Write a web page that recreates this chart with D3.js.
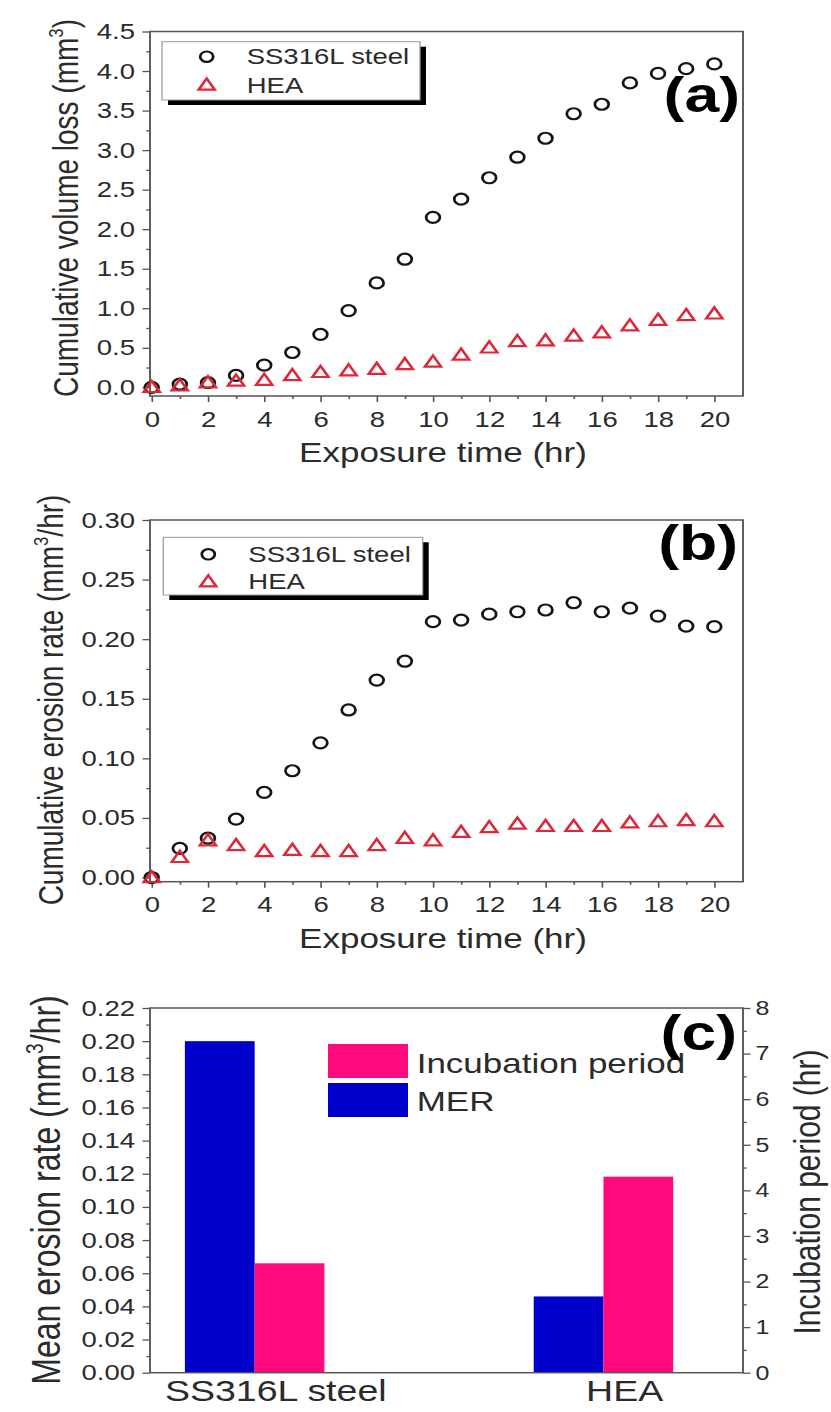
<!DOCTYPE html>
<html><head><meta charset="utf-8">
<script src="https://cdn.jsdelivr.net/npm/d3@7"></script>
<style>html,body{margin:0;padding:0;background:#fff}</style>
</head><body>
<script>
// ---------------- data ----------------
const hours = [0,1,2,3,4,5,6,7,8,9,10,11,12,13,14,15,16,17,18,19,20];
const seriesNames = ["SS316L steel", "HEA"];
const volumeLossSS  = [0.00,0.04,0.06,0.15,0.28,0.44,0.67,0.97,1.32,1.62,2.15,2.38,2.65,2.91,3.15,3.46,3.58,3.85,3.97,4.03,4.09];
const volumeLossHEA = [0.00,0.02,0.06,0.08,0.09,0.15,0.19,0.21,0.23,0.29,0.32,0.41,0.50,0.58,0.59,0.65,0.69,0.78,0.85,0.91,0.93];
const erosionRateSS  = [0.000,0.0245,0.033,0.049,0.0715,0.0896,0.113,0.1406,0.1657,0.1815,0.2147,0.216,0.221,0.223,0.2245,0.2306,0.223,0.226,0.2194,0.211,0.2105];
const erosionRateHEA = [0.000,0.017,0.031,0.027,0.022,0.023,0.022,0.022,0.027,0.033,0.031,0.038,0.042,0.045,0.043,0.043,0.043,0.046,0.047,0.048,0.047];
const materials = ["SS316L steel", "HEA"];
const barSeries = ["Incubation period", "MER"];
const merValues = [0.200, 0.046];
const incubationValues = [2.4, 4.3];

const xTicks = [0,2,4,6,8,10,12,14,16,18,20];
const xMinorTicks = [1,3,5,7,9,11,13,15,17,19];
const volTicks = [0,0.5,1.0,1.5,2.0,2.5,3.0,3.5,4.0,4.5];
const volMinorTicks = [0.25,0.75,1.25,1.75,2.25,2.75,3.25,3.75,4.25];
const rateTicks = [0,0.05,0.10,0.15,0.20,0.25,0.30];
const rateMinorTicks = [0.025,0.075,0.125,0.175,0.225,0.275];
const merTicks = [0,0.02,0.04,0.06,0.08,0.10,0.12,0.14,0.16,0.18,0.20,0.22];
const merMinorTicks = [0.01,0.03,0.05,0.07,0.09,0.11,0.13,0.15,0.17,0.19,0.21];
const incTicks = [0,1,2,3,4,5,6,7,8];
const incMinorTicks = [0.5,1.5,2.5,3.5,4.5,5.5,6.5,7.5];

// ---------------- layout ----------------
const W = 831, H = 1412, S = 1.25;           // reference is stretched horizontally
const FONT = "'Liberation Sans', Arial, Helvetica, sans-serif";
const X = px => px / S;
const AX = "#555", TXT = "#2b2b2b";
const BLACK = "#151515", RED = "#dc2838", BLUE = "#0000cc", PINK = "#ff0a7d";
const L = 150, R = 743;

const svg = d3.select("body").append("svg").attr("width", W).attr("height", H).style("display","block");
svg.append("rect").attr("width",W).attr("height",H).attr("fill","#fff");
const root = svg.append("g").attr("transform", `scale(${S},1)`);

function styleAxis(g, fs) {
  g.select(".domain").remove();
  g.attr("font-family", null).attr("font-size", null);
  g.selectAll(".tick line").attr("stroke", AX).attr("stroke-width", 1.3);
  g.selectAll(".tick text").attr("fill", TXT).style("font-family", FONT).style("font-size", fs + "px");
}

function rotTitle(parent, xBase, yc, fs, parts) {
  const t = parent.append("text")
    .attr("transform", `translate(${X(xBase)},${yc}) rotate(-90)`)
    .attr("text-anchor", "middle").attr("fill", TXT)
    .style("font-family", FONT).style("font-size", fs + "px");
  let prevSup = false;
  parts.forEach(([s, sup]) => {
    const sp = t.append("tspan").text(s);
    if (sup) { sp.attr("dy", -fs * 0.42).style("font-size", (fs * 0.6) + "px"); }
    else if (prevSup) { sp.attr("dy", fs * 0.42); }
    prevSup = sup;
  });
}

function scatterPanel(o) {
  const g = root.append("g");
  const x = d3.scaleLinear().domain([-0.06, 21.02]).range([X(L), X(R)]);
  const y = d3.scaleLinear().domain(o.yDomain).range([o.bottom, o.top]);

  // axes
  g.append("g").attr("transform", `translate(0,${o.bottom})`)
    .call(d3.axisBottom(x).tickValues(xMinorTicks).tickSize(3).tickFormat(""))
    .call(a => styleAxis(a, 22));
  g.append("g").attr("transform", `translate(0,${o.bottom})`)
    .call(d3.axisBottom(x).tickValues(xTicks).tickSize(6).tickPadding(9).tickFormat(d3.format("d")))
    .call(a => styleAxis(a, 22));
  g.append("g").attr("transform", `translate(${X(L)},0)`)
    .call(d3.axisLeft(y).tickValues(o.yMinor).tickSize(3).tickFormat(""))
    .call(a => styleAxis(a, 22));
  g.append("g").attr("transform", `translate(${X(L)},0)`)
    .call(d3.axisLeft(y).tickValues(o.yTicks).tickSize(6).tickPadding(6).tickFormat(d3.format(o.fmt)))
    .call(a => styleAxis(a, 22));
  g.append("rect").attr("x", X(L)).attr("y", o.top).attr("width", X(R) - X(L)).attr("height", o.bottom - o.top)
    .attr("fill", "none").attr("stroke", AX).attr("stroke-width", 1.5);

  // titles
  g.append("text").attr("x", X(443)).attr("y", o.bottom + 66).attr("text-anchor", "middle")
    .attr("fill", TXT).style("font-family", FONT).style("font-size", "28px").text("Exposure time (hr)");
  rotTitle(g, o.titleX, o.titleY, 28, o.titleParts);

  // legend
  const lg = o.legend;
  g.append("rect").attr("x", X(lg.x0 + 6)).attr("y", lg.y0 + 5).attr("width", X(lg.x1) - X(lg.x0)).attr("height", lg.y1 - lg.y0).attr("fill", "#000");
  g.append("rect").attr("x", X(lg.x0)).attr("y", lg.y0).attr("width", X(lg.x1) - X(lg.x0)).attr("height", lg.y1 - lg.y0)
    .attr("fill", "#fff").attr("stroke", "#9a9a9a").attr("stroke-width", 1);
  const tri = d3.symbol().type(d3.symbolTriangle).size(72)();
  g.append("circle").attr("cx", X(lg.mx)).attr("cy", lg.r1).attr("r", 5.2).attr("fill", "none").attr("stroke", BLACK).attr("stroke-width", 2.2);
  g.append("path").attr("d", tri).attr("transform", `translate(${X(lg.mx)},${lg.r2 + 1})`).attr("fill", "none").attr("stroke", RED).attr("stroke-width", 2.2);
  [lg.r1, lg.r2].forEach((ry, i) => {
    g.append("text").attr("x", X(lg.tx)).attr("y", ry + 7.7).attr("fill", TXT)
      .style("font-family", FONT).style("font-size", "22px").text(seriesNames[i]);
  });

  // data points
  g.append("g").selectAll("circle").data(hours).join("circle")
    .attr("cx", (h) => x(h)).attr("cy", (h, i) => y(o.ss[i])).attr("r", 5.5)
    .attr("fill", "none").attr("stroke", BLACK).attr("stroke-width", 2.2);
  g.append("g").selectAll("path").data(hours).join("path")
    .attr("d", tri).attr("transform", (h, i) => `translate(${x(h)},${y(o.hea[i]) + 1})`)
    .attr("fill", "none").attr("stroke", RED).attr("stroke-width", 2.2);

  // panel letter
  g.append("text").attr("x", X(o.letterX)).attr("y", o.letterY).attr("text-anchor", "end")
    .attr("fill", "#000").style("font-family", FONT).style("font-size", "50px").style("font-weight", "bold").text(o.letter);
}

scatterPanel({
  top: 31.5, bottom: 396, yDomain: [-0.11, 4.5], yTicks: volTicks, yMinor: volMinorTicks, fmt: ".1f",
  ss: volumeLossSS, hea: volumeLossHEA,
  titleX: 78, titleY: 208, titleParts: [["Cumulative volume loss (mm", false], ["3", true], [")", false]],
  legend: { x0: 162, x1: 420, y0: 41.7, y1: 100, mx: 206.7, r1: 56.7, r2: 85, tx: 246.7 },
  letter: "(a)", letterX: 740, letterY: 112
});

scatterPanel({
  top: 520, bottom: 881.7, yDomain: [-0.0035, 0.30], yTicks: rateTicks, yMinor: rateMinorTicks, fmt: ".2f",
  ss: erosionRateSS, hea: erosionRateHEA,
  titleX: 63, titleY: 700, titleParts: [["Cumulative erosion rate (mm", false], ["3", true], ["/hr)", false]],
  legend: { x0: 163.3, x1: 422.7, y0: 537.3, y1: 595, mx: 208.3, r1: 554.3, r2: 581.7, tx: 248.3 },
  letter: "(b)", letterX: 738, letterY: 560
});

// ---------------- panel (c) ----------------
(function () {
  const top = 1008, bottom = 1372.7;
  const g = root.append("g");
  const xc = d3.scaleLinear().domain([0.7, 2.4]).range([X(L), X(R)]);
  const yL = d3.scaleLinear().domain([0, 0.22]).range([bottom, top]);
  const yR = d3.scaleLinear().domain([0, 8]).range([bottom, top]);
  const bw = xc(1.2) - xc(1);

  materials.forEach((m, i) => {
    g.append("rect").attr("x", xc(i + 1) - bw).attr("width", bw)
      .attr("y", yL(merValues[i])).attr("height", bottom - yL(merValues[i])).attr("fill", BLUE);
    g.append("rect").attr("x", xc(i + 1)).attr("width", bw)
      .attr("y", yR(incubationValues[i])).attr("height", bottom - yR(incubationValues[i])).attr("fill", PINK);
  });

  g.append("g").attr("transform", `translate(${X(L)},0)`)
    .call(d3.axisLeft(yL).tickValues(merMinorTicks).tickSize(3).tickFormat(""))
    .call(a => styleAxis(a, 22));
  g.append("g").attr("transform", `translate(${X(L)},0)`)
    .call(d3.axisLeft(yL).tickValues(merTicks).tickSize(6).tickPadding(6).tickFormat(d3.format(".2f")))
    .call(a => styleAxis(a, 22));
  g.append("g").attr("transform", `translate(${X(R)},0)`)
    .call(d3.axisRight(yR).tickValues(incMinorTicks).tickSize(3).tickFormat(""))
    .call(a => styleAxis(a, 20));
  g.append("g").attr("transform", `translate(${X(R)},0)`)
    .call(d3.axisRight(yR).tickValues(incTicks).tickSize(6).tickPadding(4).tickFormat(d3.format("d")))
    .call(a => styleAxis(a, 20));
  g.append("g").attr("transform", `translate(0,${bottom})`)
    .call(d3.axisBottom(xc).tickValues([1, 2]).tickSize(0).tickPadding(7).tickFormat(d => materials[d - 1]))
    .call(a => styleAxis(a, 30))
    .call(a => a.selectAll(".tick text").attr("dx", X(20.5)));
  g.append("rect").attr("x", X(L)).attr("y", top).attr("width", X(R) - X(L)).attr("height", bottom - top)
    .attr("fill", "none").attr("stroke", AX).attr("stroke-width", 1.5);

  rotTitle(g, 60, 1190, 32, [["Mean erosion rate (mm", false], ["3", true], ["/hr)", false]]);
  rotTitle(g, 820, 1192, 30, [["Incubation period (hr)", false]]);

  // legend
  const leg = [
    { name: barSeries[0], color: PINK, y0: 1044, y1: 1078, ty: 1073 },
    { name: barSeries[1], color: BLUE, y0: 1083, y1: 1117, ty: 1111 }
  ];
  leg.forEach(d => {
    g.append("rect").attr("x", X(328)).attr("y", d.y0).attr("width", X(408) - X(328)).attr("height", d.y1 - d.y0).attr("fill", d.color);
    g.append("text").attr("x", X(416.7)).attr("y", d.ty).attr("fill", TXT)
      .style("font-family", FONT).style("font-size", "28px").text(d.name);
  });

  g.append("text").attr("x", X(737)).attr("y", 1050).attr("text-anchor", "end")
    .attr("fill", "#000").style("font-family", FONT).style("font-size", "50px").style("font-weight", "bold").text("(c)");
})();
</script>
</body></html>
